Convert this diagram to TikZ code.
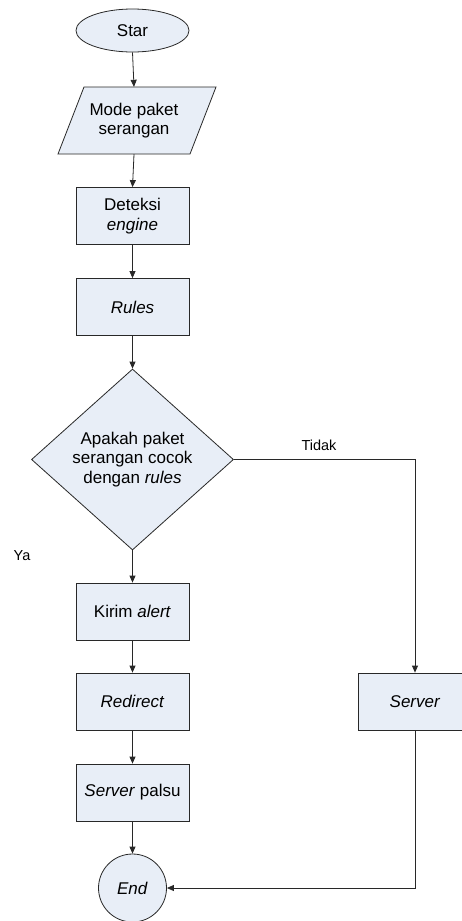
\documentclass[tikz,border=0pt]{standalone}
\usepackage{fontspec}
\setmainfont{Liberation Sans}
\usetikzlibrary{shapes.geometric,arrows.meta}
\definecolor{boxfill}{RGB}{232,238,247}
\definecolor{edge}{RGB}{40,40,40}
\begin{document}
\begin{tikzpicture}[x=1pt,y=-1pt,
  nodefont/.style={font=\fontsize{17}{19.3}\selectfont},
  shapebase/.style={draw=edge, fill=boxfill, line width=0.8pt, inner sep=0pt, align=center, nodefont},
  box/.style={shapebase, rectangle, minimum width=113pt, minimum height=57pt},
  conn/.style={draw=edge, line width=0.8pt, -{Triangle[length=7pt,width=6pt]}},
  plain/.style={draw=edge, line width=0.8pt},
  lbl/.style={font=\fontsize{14.5}{16}\selectfont, inner sep=0pt}]
\clip (0,0) rectangle (462,921);
\fill[white] (0,0) rectangle (462,921);

\node[shapebase, ellipse, minimum width=113pt, minimum height=43pt] (star) at (132.5,30.5) {Star};

\path[shapebase] (84,87) -- (216,87) -- (190,154) -- (58,154) -- cycle;
\node[nodefont, align=center, minimum width=110pt, minimum height=67pt, inner sep=0pt] (mode) at (134,120.5) {Mode paket\\serangan};

\node[box] (det) at (132.5,216) {Deteksi\\\textit{engine}};
\node[box] (rules) at (132.5,307) {\textit{Rules}};
\node[shapebase, diamond, minimum width=202pt, minimum height=181pt] (dec) at (132.5,459.5) {Apakah paket\\serangan cocok\\dengan \textit{rules}};
\node[box] (kirim) at (132.5,611.5) {Kirim \textit{alert}};
\node[box] (redir) at (132.5,701.5) {\textit{Redirect}};
\node[box] (palsu) at (132.5,792.5) {\textit{Server} palsu};
\node[shapebase, circle, minimum size=68pt] (end) at (132.5,888) {\textit{End}};
\node[box] (server) at (415,701.5) {\textit{Server}};

\coordinate (tcorner) at (415,459.5);
\coordinate (bcorner) at (415,888);

\node[lbl] (tidak) at (319,445) {Tidak};
\node[lbl] (ya) at (22,556) {Ya};

\draw[conn] (star.south) -- (mode.north);
\draw[conn] (mode.south) -- (det.north);
\draw[conn] (det.south) -- (rules.north);
\draw[conn] (rules.south) -- (dec.north);
\draw[conn] (dec.south) -- (kirim.north);
\draw[conn] (kirim.south) -- (redir.north);
\draw[conn] (redir.south) -- (palsu.north);
\draw[conn] (palsu.south) -- (end.north);
\draw[conn] (dec.east) -- (tcorner) -- (server.north);
\draw[conn] (server.south) -- (bcorner) -- (end.east);
\end{tikzpicture}
\end{document}
